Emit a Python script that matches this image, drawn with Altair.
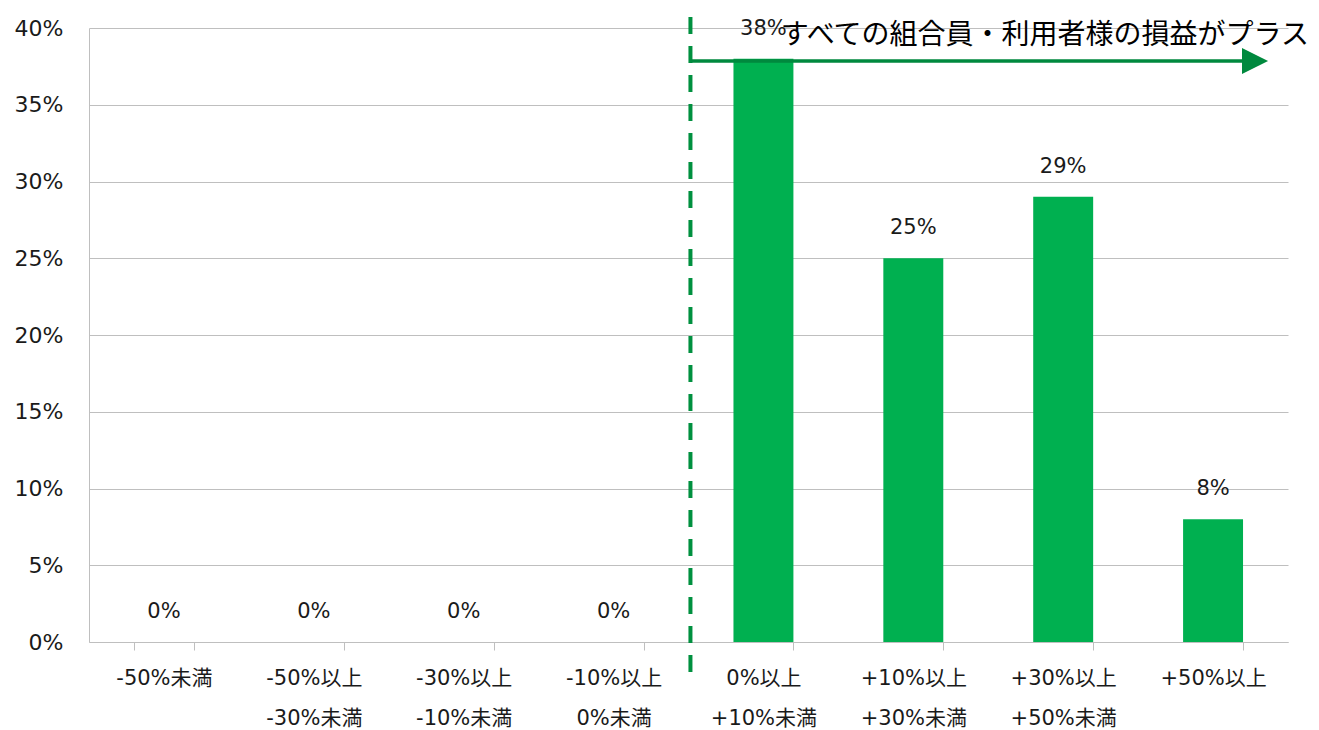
import altair as alt
import pandas as pd

categories = ["-50%未満", "-50%以上\n-30%未満", "-30%以上\n-10%未満", "-10%以上\n0%未満",
              "0%以上\n+10%未満", "+10%以上\n+30%未満", "+30%以上\n+50%未満", "+50%以上"]
values = [0, 0, 0, 0, 38, 25, 29, 8]
value_labels = ["0%", "0%", "0%", "0%", "38%", "25%", "29%", "8%"]

annotation_text = "すべての組合員・利用者様の損益がプラス"

df = pd.DataFrame({"cat": categories, "v": values, "lab": value_labels})

FONT = "DejaVu Sans, Noto Sans CJK JP"
TXT = "#1a1a1a"
GRID = "#bfbfbf"

x_enc = alt.X("cat:N", sort=categories, title=None,
              scale=alt.Scale(paddingInner=0.6, paddingOuter=0.3),
              axis=alt.Axis(labelExpr="split(datum.label, '\\n')", labelAngle=0,
                            labelFont=FONT, labelFontSize=21, labelColor=TXT,
                            labelLineHeight=40, labelBaseline="top", labelPadding=17,
                            tickBand="extent", tickColor=GRID, tickSize=8,
                            domainColor=GRID, grid=False))
y_scale = alt.Scale(domain=[0, 40], nice=False)
y_enc = alt.Y("v:Q", title=None, scale=y_scale,
              axis=alt.Axis(values=[0, 5, 10, 15, 20, 25, 30, 35, 40],
                            labelExpr="datum.value + '%'", labelFont=FONT,
                            labelFontSize=22, labelColor=TXT, ticks=False,
                            labelPadding=26, domainColor=GRID, gridColor=GRID))

bars = alt.Chart(df).mark_bar(color="#00b050").encode(x=x_enc, y=y_enc)
labels = alt.Chart(df).mark_text(font=FONT, fontSize=21, color=TXT, dy=-20,
                                 baseline="bottom").encode(
    x=alt.X("cat:N", sort=categories), y=alt.Y("v:Q", scale=y_scale), text="lab:N")
base = alt.layer(bars, labels)

xq = alt.Scale(domain=[0, 8], nice=False)
dash_df = pd.DataFrame({"x": [4.013], "y": [-1.95], "y2": [40.9]})
dash = alt.Chart(dash_df).mark_rule(color="#00903f", strokeWidth=4,
                                    strokeDash=[17, 12], clip=False).encode(
    x=alt.X("x:Q", scale=xq, axis=None), y=alt.Y("y:Q", scale=y_scale), y2="y2:Q")

arrow_df = pd.DataFrame({"x": [4.013], "x2": [7.70], "y": [37.85]})
arrow = alt.Chart(arrow_df).mark_rule(color="#00893e", strokeWidth=3.5, clip=False).encode(
    x=alt.X("x:Q", scale=xq, axis=None), x2="x2:Q", y=alt.Y("y:Q", scale=y_scale))

head_df = pd.DataFrame({"x": [7.78], "y": [37.85]})
head = alt.Chart(head_df).mark_point(shape="M-1,-1L1,0L-1,1Z", size=680, filled=True,
                                     opacity=1, color="#00893e", clip=False).encode(
    x=alt.X("x:Q", scale=xq, axis=None), y=alt.Y("y:Q", scale=y_scale))

ann_df = pd.DataFrame({"x": [4.615], "y": [39.45], "t": [annotation_text]})
ann = alt.Chart(ann_df).mark_text(font="Noto Sans CJK JP", fontSize=28, color="#000000",
                                  align="left", baseline="middle", clip=False).encode(
    x=alt.X("x:Q", scale=xq, axis=None), y=alt.Y("y:Q", scale=y_scale), text="t:N")

annot = alt.layer(dash, arrow, head, ann)

chart = alt.layer(base, annot).resolve_scale(x="independent").properties(
    width=1199, height=614,
    background="white",
    autosize=alt.AutoSizeParams(type="none"),
    padding={"left": 81, "top": 20, "right": 20, "bottom": 86},
).configure_view(strokeWidth=0, stroke="transparent")

chart.save("out.html", embed_options={"renderer": "svg", "actions": False})
